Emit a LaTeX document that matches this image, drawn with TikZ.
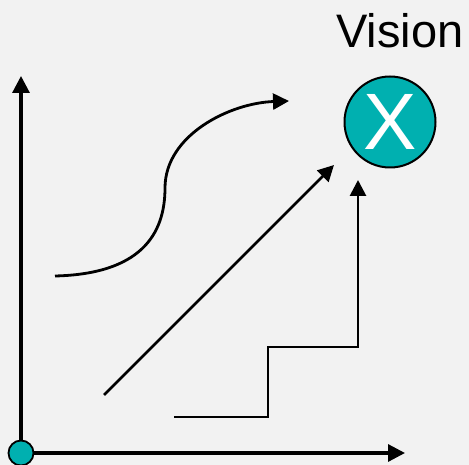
\documentclass[tikz,border=0pt]{standalone}
\usepackage{fontspec}
\setmainfont{Liberation Sans}
\usetikzlibrary{arrows.meta, positioning}
\definecolor{bgray}{RGB}{242,242,242}
\definecolor{teal}{RGB}{0,176,176}
\tikzset{%
	axis/.style={line width=3.2pt, -{Triangle[length=17pt, width=17pt]}},
	path/.style={line width=2.8pt, -{Triangle[length=16pt, width=16pt]}},
	dot/.style={draw, circle, line width=1.8pt, fill=teal, minimum size=25pt, inner sep=0pt},
	goal/.style={draw, circle, line width=2pt, fill=teal, minimum size=91pt, inner sep=0pt,
		text=white, font=\fontsize{80}{80}\selectfont},
	label/.style={font=\fontsize{47}{47}\selectfont, inner sep=0pt}
}
\begin{document}
\begin{tikzpicture}[x=1pt, y=-1pt]
	\fill[bgray] (0,0) rectangle (469,465);
	\useasboundingbox (0,0) rectangle (469,465);

	\coordinate (o) at (21,453);
	\coordinate (ytip) at (21,76);
	\coordinate (xtip) at (405,453);
	\draw[axis] (o) -- (ytip);
	\draw[axis] (o) -- (xtip);
	\node[dot] (orig) at (o) {};

	\node[goal] (vision) at (390,122) {X};
	\node[label, anchor=base west] (title) at (336,48) {Vision};

	% s-curve
	\coordinate (s0) at (55,276);
	\coordinate (s1) at (165,188);
	\coordinate (s2) at (289,101);
	\draw[path] (s0) .. controls (140,274) and (165,235) .. (s1)
		.. controls (165,135) and (230,103) .. (s2);

	% straight line
	\coordinate (d0) at (104,395);
	\coordinate (d1) at (334,165);
	\draw[path] (d0) -- (d1);

	% steps
	\coordinate (t0) at (174,417);
	\coordinate (t1) at (268,417);
	\coordinate (t2) at (268,347);
	\coordinate (t3) at (358,347);
	\coordinate (t4) at (358,180);
	\draw[path] (t0) -- (t1) -- (t2) -- (t3) -- (t4);
\end{tikzpicture}
\end{document}
